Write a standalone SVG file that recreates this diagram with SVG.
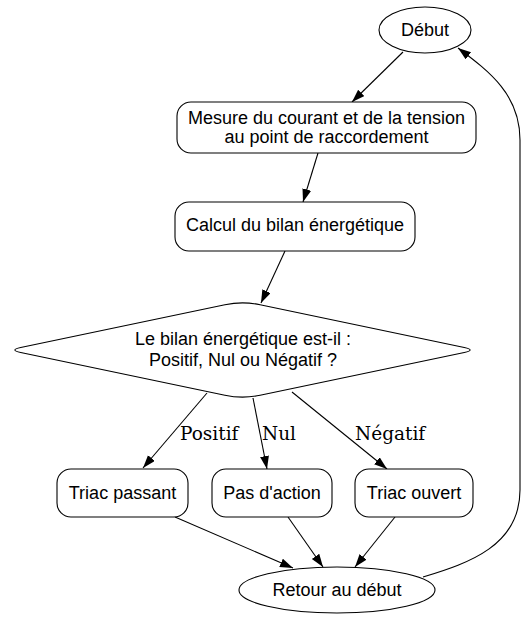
<svg xmlns="http://www.w3.org/2000/svg" width="525" height="620" viewBox="0 0 525 620">
<defs>
<marker id="ah" markerUnits="userSpaceOnUse" markerWidth="14" markerHeight="10" refX="13" refY="4.5" orient="auto">
<path d="M0,0 L13,4.5 L0,9 z" fill="#000"/>
</marker>
<style>
.n{fill:#fff;stroke:#000;stroke-width:1.1}
.t{font-family:"Liberation Sans",Arial,sans-serif;font-size:18px;text-anchor:middle;fill:#000}
.e{fill:none;stroke:#000;stroke-width:1.1;marker-end:url(#ah)}
.l{font-family:"DejaVu Serif",serif;font-size:18.5px;fill:#000}
</style>
</defs>
<rect width="525" height="620" fill="#fff"/>
<g id="connectors">
<path class="e" d="M403,52 L352,102"/>
<path class="e" d="M318,153 L303,202"/>
<path class="e" d="M285,251 L261,303"/>
<path class="e" d="M207,393 L143,468"/>
<path class="e" d="M253,398 L267,469"/>
<path class="e" d="M292,392 L387,469"/>
<path class="e" d="M175,517 L293,568"/>
<path class="e" d="M288,517 L323,567"/>
<path class="e" d="M395,517 L355,567"/>
<path class="e" d="M423,577 C470,563 520,545 520,490 L520,140 C520,95 490,72 458,48"/>
<text class="l" x="180" y="440">Positif</text>
<text class="l" x="262" y="440">Nul</text>
<text class="l" x="355" y="440">Négatif</text>
</g>
<g id="debut">
<ellipse class="n" cx="425" cy="30" rx="46" ry="23"/>
<text class="t" x="425" y="36">Début</text>
</g>
<g id="mesure">
<rect class="n" x="177" y="102" width="299" height="51" rx="14"/>
<text class="t" x="326.5" y="123.5">Mesure du courant et de la tension</text>
<text class="t" x="326.5" y="143">au point de raccordement</text>
</g>
<g id="calcul">
<rect class="n" x="175" y="202" width="240" height="49" rx="14"/>
<text class="t" x="295" y="231">Calcul du bilan énergétique</text>
</g>
<g id="decision">
<path class="n" d="M20.7,347.5 L224.9,304.7 Q242.5,301 260.1,304.7 L464.3,347.5 Q476,350 464.3,352.5 L260.1,395.3 Q242.5,399 224.9,395.3 L20.7,352.5 Q9,350 20.7,347.5 Z"/>
<text class="t" x="243" y="345">Le bilan énergétique est-il :</text>
<text class="t" x="243" y="365.5">Positif, Nul ou Négatif ?</text>
</g>
<g id="triac-passant">
<rect class="n" x="57" y="469" width="131" height="48" rx="14"/>
<text class="t" x="122.5" y="499">Triac passant</text>
</g>
<g id="pas-action">
<rect class="n" x="212" y="469" width="120" height="48" rx="14"/>
<text class="t" x="272" y="499">Pas d'action</text>
</g>
<g id="triac-ouvert">
<rect class="n" x="355" y="469" width="118" height="48" rx="14"/>
<text class="t" x="414" y="499">Triac ouvert</text>
</g>
<g id="retour">
<ellipse class="n" cx="337" cy="590" rx="98" ry="23"/>
<text class="t" x="337" y="596">Retour au début</text>
</g>
</svg>
